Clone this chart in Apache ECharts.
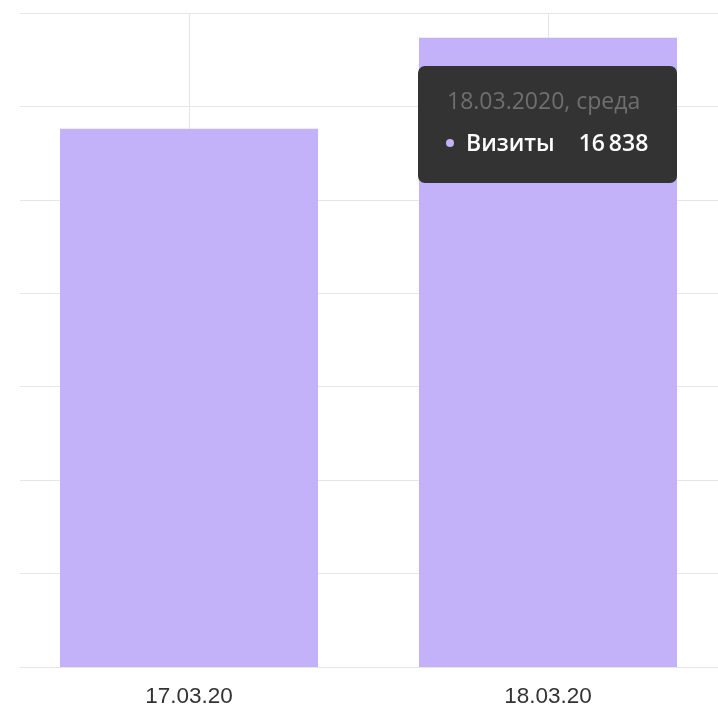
<!DOCTYPE html>
<html><head><meta charset="utf-8">
<script src="https://cdn.jsdelivr.net/npm/echarts@6/dist/echarts.min.js"></script>
<style>html,body{margin:0;padding:0;background:#fff;overflow:hidden}#c{width:718px;height:707px}</style>
</head><body><div id="c"></div>
<script>
const categories = ['17.03.20', '18.03.20'];
const fullDates = ['17.03.2020, вторник', '18.03.2020, среда'];
const seriesName = 'Визиты';
const visits = [14400, 16838];
const yMin = 0, yMax = 17500, yInterval = 2500;
const barColor = '#c3b1fa';

function fmt(v) { return String(v).replace(/\B(?=(\d{3})+(?!\d))/g, '\u2009'); }

const chart = echarts.init(document.getElementById('c'));
chart.setOption({
  animation: false,
  grid: [
    { left: 20, right: 0, top: 13, bottom: 40, outerBoundsMode: 'none' },
    { left: 9.5, right: -9.5, top: 13, bottom: 40, outerBoundsMode: 'none' }
  ],
  xAxis: [
    { gridIndex: 0, type: 'category', data: categories, show: false },
    { gridIndex: 1, type: 'category', data: categories,
      axisLine: { show: false }, axisTick: { show: false },
      splitLine: { show: true, alignWithLabel: true, lineStyle: { color: '#e6e6e6', width: 1 } },
      axisLabel: { color: '#333', fontSize: 22.5, fontFamily: 'Liberation Sans, Arial, sans-serif', margin: 18 } }
  ],
  yAxis: [
    { gridIndex: 0, type: 'value', min: yMin, max: yMax, interval: yInterval,
      axisLabel: { show: false }, axisLine: { show: false }, axisTick: { show: false },
      splitLine: { show: true, lineStyle: { color: '#e6e6e6', width: 1 } } },
    { gridIndex: 1, type: 'value', min: yMin, max: yMax, interval: yInterval, show: false,
      splitLine: { show: false } }
  ],
  tooltip: {
    trigger: 'item',
    alwaysShowContent: true,
    position: [418, 66],
    backgroundColor: '#333',
    borderWidth: 0,
    padding: 0,
    transitionDuration: 0,
    extraCssText: 'border-radius:7px;box-shadow:none;',
    formatter: function (p) {
      return '<div style="box-sizing:border-box;width:259px;height:117px;padding:22px 0 0 29px;font-family:\'Open Sans\',sans-serif;">' +
        '<div style="color:#6f6f6f;font-size:23px;line-height:24px;white-space:nowrap;">' + fullDates[p.dataIndex] + '</div>' +
        '<div style="color:#fff;font-size:23px;font-weight:600;line-height:24px;margin-top:18px;white-space:nowrap;">' +
        '<span style="display:inline-block;width:8px;height:8px;border-radius:50%;background:' + barColor + ';margin:0 12px 3px -1px;vertical-align:middle;"></span>' +
        p.seriesName + '<span style="display:inline-block;width:24px"></span>' + fmt(p.value) + '</div></div>';
    }
  },
  series: [{
    type: 'bar', name: seriesName, xAxisIndex: 1, yAxisIndex: 1,
    data: visits, barWidth: 258,
    itemStyle: { color: barColor },
    emphasis: { disabled: true }
  }]
});
chart.dispatchAction({ type: 'showTip', seriesIndex: 0, dataIndex: 1 });
</script></body></html>
